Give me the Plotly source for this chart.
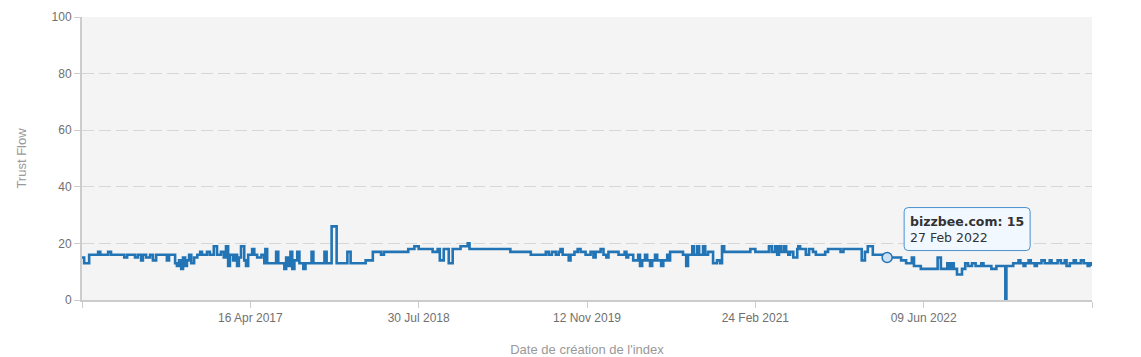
import plotly.graph_objects as go

# ---- data ----
dates = [
    "2016-01-02", "2016-01-08", "2016-01-22", "2016-02-16", "2016-02-22", "2016-03-15", "2016-03-23",
    "2016-04-29", "2016-05-07", "2016-05-29", "2016-06-06", "2016-06-15", "2016-06-20", "2016-06-29",
    "2016-07-10", "2016-07-18", "2016-07-27", "2016-08-26", "2016-09-01", "2016-09-18", "2016-09-23",
    "2016-09-29", "2016-10-05", "2016-10-10", "2016-10-16", "2016-10-21", "2016-10-27", "2016-11-02",
    "2016-11-10", "2016-11-19", "2016-11-27", "2016-12-02", "2016-12-16", "2016-12-24", "2017-01-04",
    "2017-01-13", "2017-01-24", "2017-02-01", "2017-02-07", "2017-02-13", "2017-02-18", "2017-02-27",
    "2017-03-04", "2017-03-10", "2017-03-15", "2017-03-21", "2017-03-30", "2017-04-04", "2017-04-10",
    "2017-04-21", "2017-04-27", "2017-05-05", "2017-05-17", "2017-05-25", "2017-05-28", "2017-06-02",
    "2017-06-27", "2017-07-03", "2017-07-20", "2017-07-25", "2017-07-31", "2017-08-06", "2017-08-11",
    "2017-08-17", "2017-08-25", "2017-08-31", "2017-09-11", "2017-09-17", "2017-10-04", "2017-10-09",
    "2017-11-09", "2017-11-15", "2017-11-29", "2017-12-13", "2018-01-12", "2018-01-21", "2018-03-04",
    "2018-03-24", "2018-04-16", "2018-04-24", "2018-07-01", "2018-07-18", "2018-07-30", "2018-09-07",
    "2018-09-21", "2018-09-27", "2018-10-08", "2018-10-22", "2018-11-02", "2018-11-24", "2018-12-14",
    "2018-12-19", "2019-04-12", "2019-06-08", "2019-07-20", "2019-07-28", "2019-08-06", "2019-08-17",
    "2019-08-25", "2019-08-30", "2019-09-05", "2019-09-22", "2019-09-27", "2019-10-08", "2019-10-17",
    "2019-10-25", "2019-11-08", "2019-11-22", "2019-11-30", "2019-12-06", "2019-12-20", "2019-12-28",
    "2020-01-05", "2020-01-11", "2020-02-08", "2020-02-25", "2020-03-01", "2020-03-06", "2020-03-20",
    "2020-04-03", "2020-04-08", "2020-04-14", "2020-04-22", "2020-04-28", "2020-05-06", "2020-05-12",
    "2020-05-20", "2020-05-26", "2020-06-06", "2020-06-12", "2020-06-23", "2020-06-28", "2020-07-01",
    "2020-08-06", "2020-08-15", "2020-08-20", "2020-09-01", "2020-09-06", "2020-09-15", "2020-09-20",
    "2020-10-01", "2020-10-07", "2020-10-15", "2020-10-29", "2020-11-09", "2020-11-18", "2020-11-23",
    "2020-11-29", "2021-02-10", "2021-02-24", "2021-04-03", "2021-04-11", "2021-04-20", "2021-04-26",
    "2021-05-01", "2021-05-07", "2021-05-15", "2021-05-21", "2021-05-27", "2021-06-01", "2021-06-10",
    "2021-06-21", "2021-06-24", "2021-06-29", "2021-07-15", "2021-07-24", "2021-08-04", "2021-08-12",
    "2021-09-07", "2021-09-15", "2021-10-20", "2021-10-28", "2021-12-18", "2021-12-27", "2022-01-04",
    "2022-01-18", "2022-02-27", "2022-04-07", "2022-04-21", "2022-05-07", "2022-05-13", "2022-06-01",
    "2022-07-18", "2022-07-27", "2022-08-14", "2022-08-21", "2022-08-27", "2022-09-01", "2022-09-10",
    "2022-09-24", "2022-10-03", "2022-10-11", "2022-10-22", "2022-11-01", "2022-11-17", "2022-11-23",
    "2022-12-15", "2022-12-29", "2023-01-23", "2023-01-26", "2023-02-14", "2023-03-01", "2023-03-06",
    "2023-03-15", "2023-03-20", "2023-03-29", "2023-04-04", "2023-04-15", "2023-04-21", "2023-05-04",
    "2023-05-13", "2023-05-27", "2023-06-01", "2023-06-18", "2023-06-27", "2023-07-08", "2023-07-13",
    "2023-07-22", "2023-08-02", "2023-08-08", "2023-08-22", "2023-08-30", "2023-09-10", "2023-09-15",
    "2023-09-22",
]
trust_flow = [
    15, 13, 16, 17, 16, 17, 16,
    15, 16, 15, 16, 14, 16, 15,
    16, 14, 16, 14, 16, 13, 12,
    14, 11, 15, 12, 14, 16, 13,
    15, 16, 17, 16, 17, 16, 19,
    16, 17, 15, 19, 12, 16, 14,
    16, 12, 15, 19, 14, 12, 16,
    18, 16, 15, 16, 13, 18, 13,
    17, 13, 11, 15, 12, 17, 11,
    14, 17, 13, 11, 13, 17, 13,
    17, 13, 26, 13, 17, 13, 14,
    17, 16, 17, 18, 19, 18, 17,
    18, 14, 18, 13, 18, 19, 20,
    18, 17, 16, 17, 16, 17, 16,
    17, 18, 16, 14, 16, 17, 18,
    17, 16, 17, 15, 17, 18, 16,
    15, 17, 16, 17, 15, 16, 14,
    16, 12, 14, 16, 14, 12, 14,
    16, 14, 12, 14, 16, 14, 17,
    16, 12, 16, 19, 16, 19, 16,
    19, 16, 17, 13, 14, 13, 19,
    17, 18, 17, 19, 17, 19, 16,
    19, 17, 19, 17, 16, 17, 15,
    18, 19, 18, 16, 18, 17, 16,
    17, 18, 17, 18, 14, 17, 19,
    16, 15, 14, 13, 15, 12, 11,
    15, 11, 13, 11, 13, 11, 9,
    11, 13, 12, 13, 12, 13, 12,
    11, 12, 0, 12, 13, 14, 13,
    12, 13, 14, 13, 12, 13, 14,
    13, 14, 13, 14, 13, 14, 12,
    13, 14, 13, 14, 13, 12, 13,
    12,
]

site_name = "bizzbee.com"
tooltip_date = "2022-02-27"
tooltip_value = 15
tooltip_label = "27 Feb 2022"

x_range = ["2016-01-02", "2023-09-22"]
tick_dates = ["2016-01-02", "2017-04-16", "2018-07-30", "2019-11-12", "2021-02-24", "2022-06-09", "2023-09-22"]
tick_labels = ["", "16 Apr 2017", "30 Jul 2018", "12 Nov 2019", "24 Feb 2021", "09 Jun 2022", ""]
y_ticks = [0, 20, 40, 60, 80, 100]

LINE = "#2274b5"
AXIS_FONT = "Liberation Sans, Arial, sans-serif"

fig = go.Figure()
fig.add_trace(go.Scatter(
    x=dates, y=trust_flow, mode="lines", line=dict(color=LINE, width=2.6, shape="hv"),
    name=site_name, hoverinfo="skip", showlegend=False,
))
fig.add_trace(go.Scatter(
    x=[tooltip_date], y=[tooltip_value], mode="markers",
    marker=dict(size=10, color="rgba(205,225,242,1)", line=dict(color=LINE, width=1.5)),
    hoverinfo="skip", showlegend=False,
))

# rounded tooltip box, anchored to the hovered point (pixel offsets)
fig.add_shape(
    type="path", xref="x", yref="y", xsizemode="pixel", ysizemode="pixel",
    xanchor=tooltip_date, yanchor=tooltip_value,
    path="M 21,7 L 139,7 Q 143,7 143,11 L 143,46 Q 143,50 139,50 L 21,50 Q 17,50 17,46 L 17,11 Q 17,7 21,7 Z",
    fillcolor="rgba(241,248,255,0.96)", line=dict(color="#4a90cf", width=1), layer="above",
)
fig.add_annotation(
    x=tooltip_date, y=tooltip_value, xref="x", yref="y",
    text=f"<b>{site_name}: {tooltip_value}</b><br>{tooltip_label}",
    showarrow=False, xanchor="left", yanchor="bottom", xshift=17, yshift=7,
    align="left", font=dict(family="DejaVu Sans, Verdana, sans-serif", size=12.5, color="#333"),
    bgcolor="rgba(0,0,0,0)", bordercolor="rgba(0,0,0,0)", borderwidth=1, borderpad=5,
)

# The page body has an 8px margin, so the figure is sized/offset to land the
# plot area where the reference has it.
fig.update_layout(
    width=1133, height=349,
    margin=dict(l=74, r=49, t=9, b=57),
    paper_bgcolor="white", plot_bgcolor="#f4f4f4",
    font=dict(family=AXIS_FONT),
    xaxis=dict(
        type="date", range=x_range, tickvals=tick_dates, ticktext=tick_labels,
        ticks="outside", ticklen=6, tickcolor="#cccccc", tickwidth=1,
        showline=True, linecolor="#cccccc", linewidth=2, showgrid=False, zeroline=False,
        tickfont=dict(size=12, color="#707070"),
        title=dict(text="Date de création de l'index", font=dict(size=13, color="#999999"), standoff=29),
        automargin=False,
    ),
    yaxis=dict(
        range=[0, 100], tickvals=y_ticks, ticks="outside", ticklen=6, tickcolor="#cccccc",
        showline=True, linecolor="#cccccc", linewidth=2,
        showgrid=True, gridcolor="#d6d6d6", gridwidth=1, griddash="12px,5px", zeroline=False,
        tickfont=dict(size=12, color="#707070"),
        title=dict(text="Trust Flow", font=dict(size=13, color="#999999"), standoff=22),
        automargin=False,
    ),
)

fig.write_html("out.html")
